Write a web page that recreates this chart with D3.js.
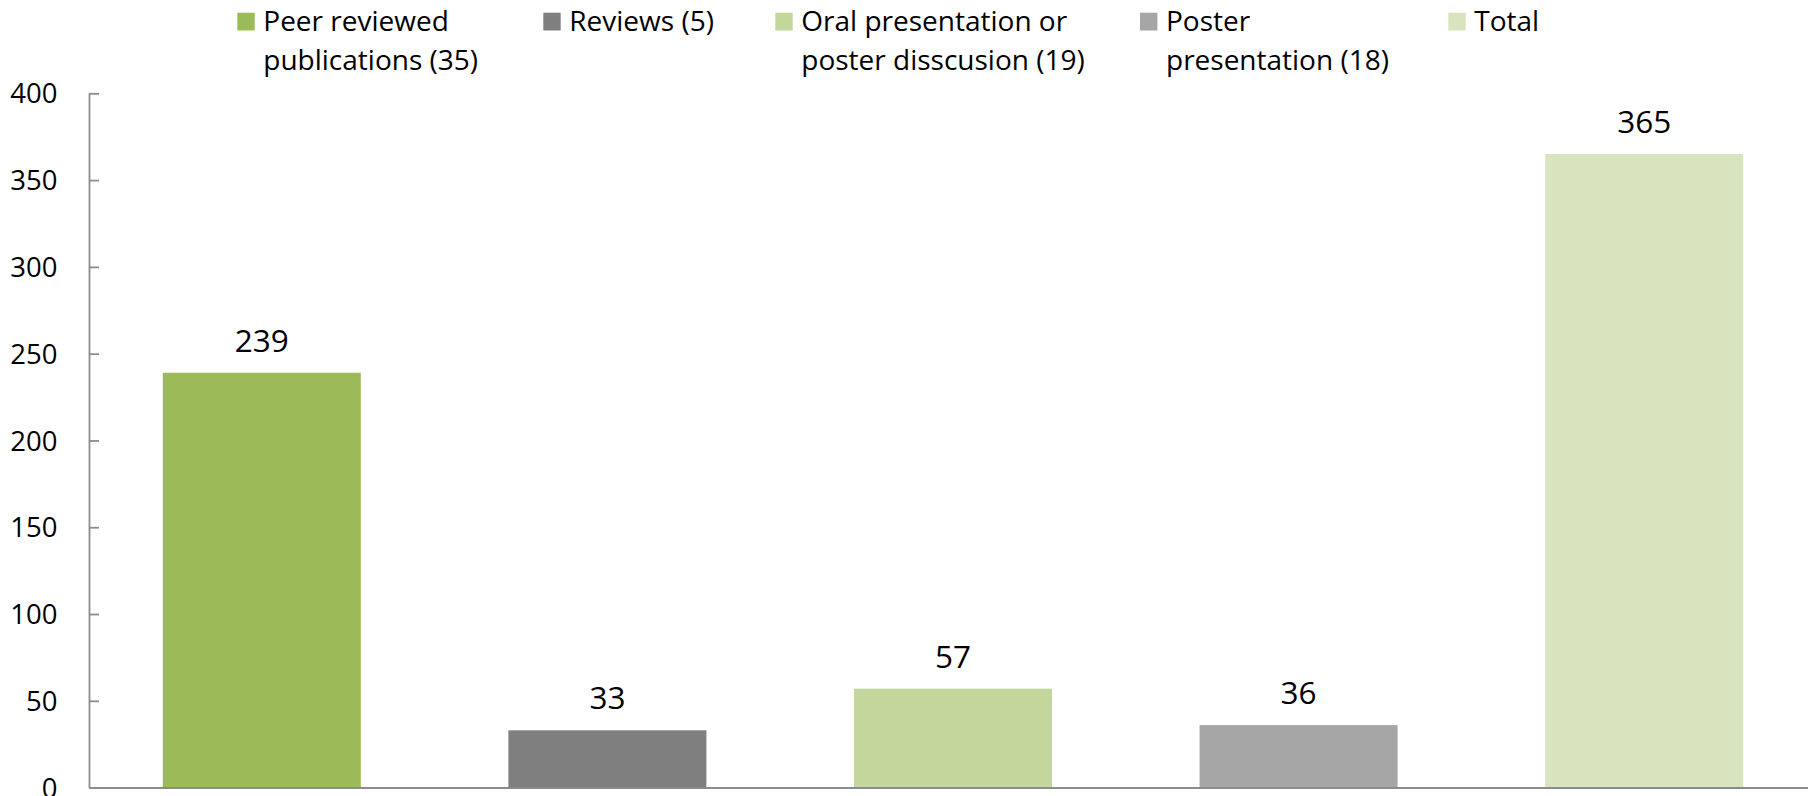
<!DOCTYPE html>
<html>
<head>
<meta charset="utf-8">
<script src="https://cdn.jsdelivr.net/npm/d3@7"></script>
<style>
  html, body { margin: 0; padding: 0; background: #fff; }
  svg { display: block; font-family: "Open Sans", sans-serif; }
</style>
</head>
<body>
<svg id="chart" width="1808" height="796"></svg>
<script>
// ---- data ----
const categories = ["Peer reviewed publications (35)", "Reviews (5)", "Oral presentation or poster disscusion (19)", "Poster presentation (18)", "Total"];
const values = [239, 33, 57, 36, 365];
const colors = ["#9BBB59", "#7F7F7F", "#C3D69B", "#A6A6A6", "#D7E4BD"];
const legendLines = [
  ["Peer reviewed", "publications (35)"],
  ["Reviews (5)"],
  ["Oral presentation or", "poster disscusion (19)"],
  ["Poster", "presentation (18)"],
  ["Total"]
];
const yTicks = [0, 50, 100, 150, 200, 250, 300, 350, 400];

// ---- layout ----
const axisX = 89, y0 = 787.6, yTop = 93.3;
const legendX = [237.3, 543.3, 775.3, 1140, 1448.3];
const axisColor = "#8C8C8C";
const FONT = "'Open Sans', sans-serif";

const svg = d3.select("#chart");

const x = d3.scaleBand().domain(categories).range([axisX, axisX + 1728]).paddingInner(0.427).paddingOuter(0.2135);
const y = d3.scaleLinear().domain([0, 400]).range([y0, yTop]);

// bars
svg.append("g").selectAll("rect").data(values).join("rect")
  .attr("x", (d, i) => x(categories[i]))
  .attr("y", d => y(d))
  .attr("width", x.bandwidth())
  .attr("height", d => y(0) - y(d))
  .attr("fill", (d, i) => colors[i]);

// value labels
svg.append("g").selectAll("text").data(values).join("text")
  .attr("x", (d, i) => x(categories[i]) + x.bandwidth() / 2)
  .attr("y", d => y(d) - 21)
  .attr("text-anchor", "middle")
  .attr("font-size", 31.5)
  .attr("fill", "#000")
  .text(d => d);

// y axis
const yAxis = svg.append("g").attr("transform", `translate(${axisX},0)`)
  .call(d3.axisLeft(y).tickValues(yTicks).tickSizeInner(-10).tickSizeOuter(0).tickPadding(31.5));
yAxis.select(".domain").attr("stroke", axisColor).attr("stroke-width", 1.8);
yAxis.selectAll(".tick line").attr("stroke", axisColor).attr("stroke-width", 1.8);
yAxis.selectAll(".tick text").attr("font-size", 27.5).attr("fill", "#000").attr("dy", null).attr("y", 9.6)
  .attr("font-family", FONT);

// x axis line
const xAxis = svg.append("g").attr("transform", `translate(0,${y0})`)
  .call(d3.axisBottom(x).tickSize(0).tickSizeOuter(0).tickFormat(""));
xAxis.select(".domain").attr("stroke", axisColor).attr("stroke-width", 2);
xAxis.selectAll(".tick").remove();

// legend
const lg = svg.append("g").selectAll("g").data(legendLines).join("g")
  .attr("transform", (d, i) => `translate(${legendX[i]},0)`);
lg.append("rect").attr("x", 0).attr("y", 12.7).attr("width", 17.4).attr("height", 17.8)
  .attr("fill", (d, i) => colors[i]);
lg.each(function(lines) {
  const g = d3.select(this);
  lines.forEach((t, j) => {
    g.append("text").attr("x", 26).attr("y", 31 + j * 39)
      .attr("font-size", 28).attr("fill", "#000").text(t);
  });
});
</script>
</body>
</html>
